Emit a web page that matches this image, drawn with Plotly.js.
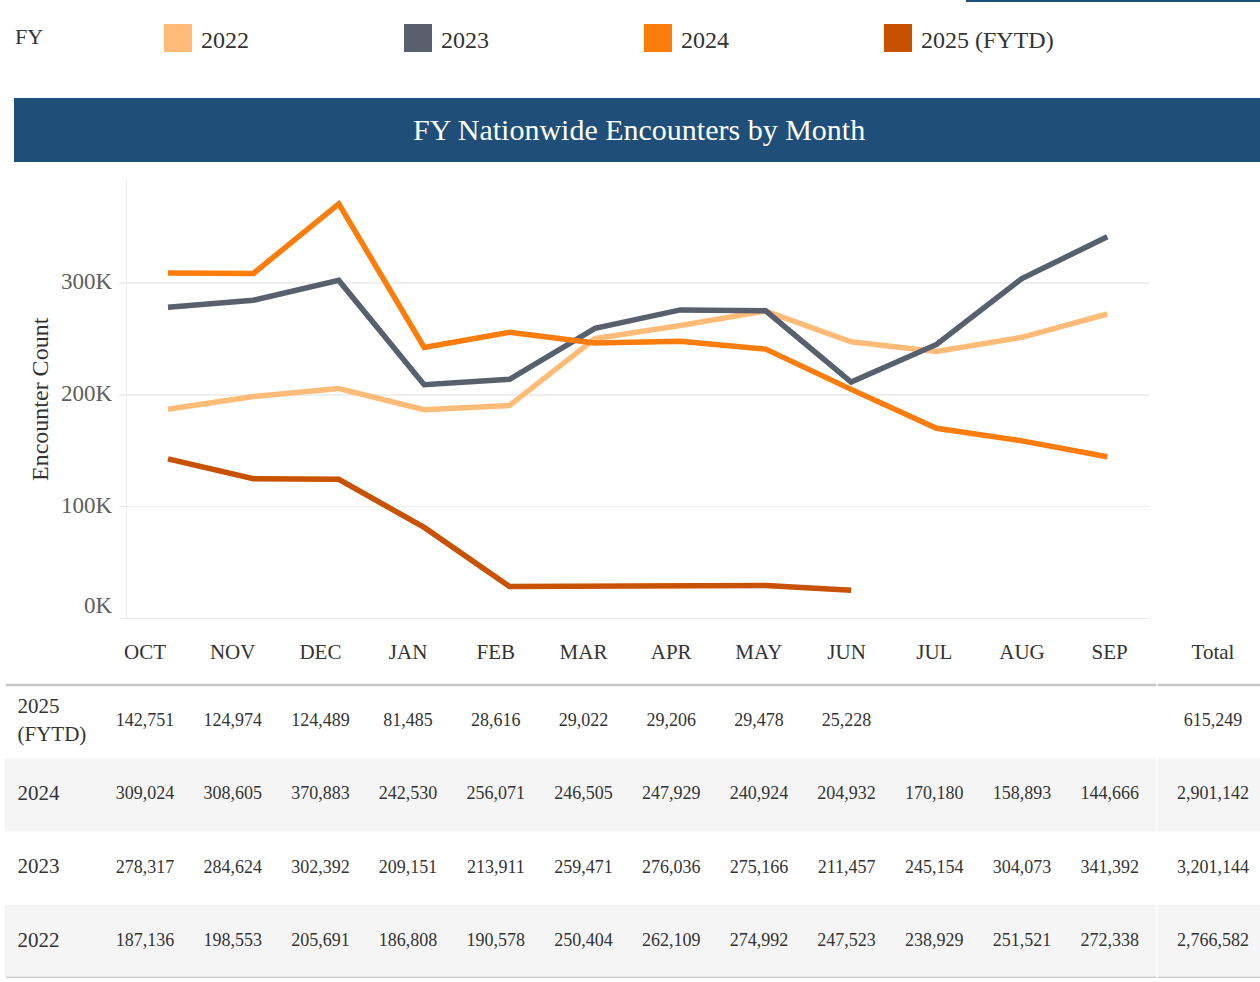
<!DOCTYPE html>
<html><head><meta charset="utf-8">
<script src="https://cdn.plot.ly/plotly-3.0.1.min.js"></script>
<style>html,body{margin:0;padding:0;background:#fff}#chart{width:1260px;height:982px}</style>
</head><body><div id="chart"></div>
<script>
// ---- data ----
const months = ['OCT','NOV','DEC','JAN','FEB','MAR','APR','MAY','JUN','JUL','AUG','SEP'];
const seriesNames = ['2022','2023','2024','2025 (FYTD)'];
const v2022 = [187136,198553,205691,186808,190578,250404,262109,274992,247523,238929,251521,272338];
const v2023 = [278317,284624,302392,209151,213911,259471,276036,275166,211457,245154,304073,341392];
const v2024 = [309024,308605,370883,242530,256071,246505,247929,240924,204932,170180,158893,144666];
const v2025 = [142751,124974,124489,81485,28616,29022,29206,29478,25228,null,null,null];
const rowLabels = ['2025<br>(FYTD)','2024','2023','2022'];
const rowTotals = [615249,2901142,3201144,2766582];
const totalLabel = 'Total';
const yTickVals = [0,100000,200000,300000];
const yTickText = ['0K','100K','200K','300K'];
const legendTitle = 'FY';
const chartTitle = 'FY Nationwide Encounters by Month';
const yTitle = 'Encounter Count';

// ---- styles ----
const colors = ['#ffbc79','#57606c','#fc7d0b','#c85200'];
const FONT = 'Liberation Serif, Times New Roman, serif';
const DARK = '#333333';
const NAVY = '#1f4e79';
const W = 1260, H = 982;
const px = x => x / W;
const py = y => 1 - y / H;

const seriesVals = [v2022, v2023, v2024, v2025];
const tableRows = [v2025, v2024, v2023, v2022];

const traces = [];
seriesVals.forEach((vals, i) => {
  traces.push({
    type: 'scatter', mode: 'lines', name: seriesNames[i],
    x: months, y: vals, xaxis: 'x', yaxis: 'y',
    line: {color: colors[i], width: 5.5},
    connectgaps: false, hoverinfo: 'skip'
  });
});

// table geometry
const colStep = 87.7, col0 = 145, totalPos = (1213 - col0) / colStep;
const rowPitch = 73.25, tableBottom = 978, tableTop = 620;
const headerRowPos = -0.5 - (685 - 654) / rowPitch;

// table: header
const headerX = months.map((m, i) => i).concat([totalPos]);
traces.push({
  type: 'scatter', mode: 'text', xaxis: 'x2', yaxis: 'y2', cliponaxis: false,
  x: headerX, y: headerX.map(() => headerRowPos),
  text: months.concat([totalLabel]),
  textposition: 'middle center',
  textfont: {family: FONT, size: 21, color: DARK}, hoverinfo: 'skip'
});
// table: row labels
traces.push({
  type: 'scatter', mode: 'text', xaxis: 'x2', yaxis: 'y2', cliponaxis: false,
  x: rowLabels.map(() => (17.5 - col0) / colStep), y: rowLabels.map((r, i) => i),
  text: rowLabels, textposition: 'middle right',
  textfont: {family: FONT, size: 21, color: DARK}, hoverinfo: 'skip'
});
// table: values
const cx = [], cy = [], ct = [];
tableRows.forEach((vals, r) => {
  vals.forEach((v, c) => {
    if (v === null) return;
    cx.push(c); cy.push(r); ct.push(v.toLocaleString('en-US'));
  });
  cx.push(totalPos); cy.push(r); ct.push(rowTotals[r].toLocaleString('en-US'));
});
traces.push({
  type: 'scatter', mode: 'text', xaxis: 'x2', yaxis: 'y2', cliponaxis: false,
  x: cx, y: cy, text: ct, textposition: 'middle center',
  textfont: {family: FONT, size: 18, color: DARK}, hoverinfo: 'skip'
});

const shapes = [];
// top-right accent line
shapes.push({type: 'rect', xref: 'paper', yref: 'paper', x0: px(966), x1: 1, y0: py(2), y1: py(0), fillcolor: NAVY, line: {width: 0}, layer: 'below'});
// title banner
shapes.push({type: 'rect', xref: 'paper', yref: 'paper', x0: px(14), x1: 1, y0: py(162), y1: py(98), fillcolor: NAVY, line: {width: 0}, layer: 'below'});
// legend swatches
seriesNames.forEach((n, i) => {
  shapes.push({type: 'rect', xref: 'paper', yref: 'paper', x0: px(164 + 240 * i), x1: px(192 + 240 * i), y0: py(52), y1: py(24), fillcolor: colors[i], line: {width: 0}});
});
// table row backgrounds (alternate rows)
tableRows.forEach((vals, r) => {
  if (r % 2 === 1) {
    shapes.push({type: 'rect', xref: 'paper', yref: 'y2', x0: px(5), x1: px(1156.5), y0: r - 0.5, y1: r + 0.5, fillcolor: '#f5f5f5', line: {width: 0}, layer: 'below'});
    shapes.push({type: 'rect', xref: 'paper', yref: 'y2', x0: px(1158), x1: 1, y0: r - 0.5, y1: r + 0.5, fillcolor: '#f5f5f5', line: {width: 0}, layer: 'below'});
  }
});
// header and bottom lines
[-0.5, tableRows.length - 0.5].forEach(yv => {
  shapes.push({type: 'line', xref: 'paper', yref: 'y2', x0: px(6), x1: px(1156.5), y0: yv, y1: yv, line: {color: '#c8c8c8', width: 2.5}});
  shapes.push({type: 'line', xref: 'paper', yref: 'y2', x0: px(1158), x1: 1, y0: yv, y1: yv, line: {color: '#c8c8c8', width: 2.5}});
});

const annotations = [];
annotations.push({xref: 'paper', yref: 'paper', x: px(13), y: py(37), xanchor: 'left', yanchor: 'middle', text: legendTitle, showarrow: false, font: {family: FONT, size: 22, color: DARK}});
seriesNames.forEach((n, i) => {
  annotations.push({xref: 'paper', yref: 'paper', x: px(199 + 240 * i), y: py(39.5), xanchor: 'left', yanchor: 'middle', text: n, showarrow: false, font: {family: FONT, size: 24, color: DARK}});
});
annotations.push({xref: 'paper', yref: 'paper', x: px(638.5), y: py(129.5), xanchor: 'center', yanchor: 'middle', text: chartTitle, showarrow: false, font: {family: FONT, size: 30, color: '#ffffff'}});
annotations.push({xref: 'paper', yref: 'paper', x: px(40), y: py(399), xanchor: 'center', yanchor: 'middle', textangle: -90, text: yTitle, showarrow: false, font: {family: FONT, size: 24, color: DARK}});
yTickVals.forEach((v, i) => {
  annotations.push({xref: 'paper', yref: 'y', x: px(115.5), y: v, xanchor: 'right', yanchor: 'middle', yshift: v === 0 ? 13 : 1.5, text: yTickText[i], showarrow: false, font: {family: FONT, size: 23, color: '#5e5e5e'}});
});

const layout = {
  width: W, height: H, margin: {l: 0, r: 0, t: 0, b: 0},
  paper_bgcolor: '#ffffff', plot_bgcolor: 'rgba(0,0,0,0)',
  showlegend: false, hovermode: false,
  font: {family: FONT, color: DARK},
  xaxis: {domain: [px(127), px(1150)], type: 'category', range: [-0.48, 11.5], showgrid: false, showticklabels: false, zeroline: false, showline: false, ticks: '', fixedrange: true},
  yaxis: {domain: [py(618.5), py(180)], range: [0, 392200], tickvals: yTickVals, showticklabels: false, showgrid: true, gridcolor: '#efefef', gridwidth: 1.5, zeroline: true, zerolinecolor: '#ececec', zerolinewidth: 1.5, showline: true, linecolor: '#eeeeee', linewidth: 1.5, ticks: 'outside', ticklen: 7, tickcolor: '#efefef', tickwidth: 1.5, fixedrange: true},
  xaxis2: {domain: [0, 1], anchor: 'y2', range: [-col0 / colStep, (W - col0) / colStep], visible: false, fixedrange: true},
  yaxis2: {domain: [py(tableBottom), py(tableTop)], anchor: 'x2', range: [tableRows.length - 0.5, tableRows.length - 0.5 - (tableBottom - tableTop) / rowPitch], visible: false, fixedrange: true},
  shapes: shapes, annotations: annotations
};

Plotly.newPlot('chart', traces, layout, {displayModeBar: false, staticPlot: true});
</script>
</body></html>
